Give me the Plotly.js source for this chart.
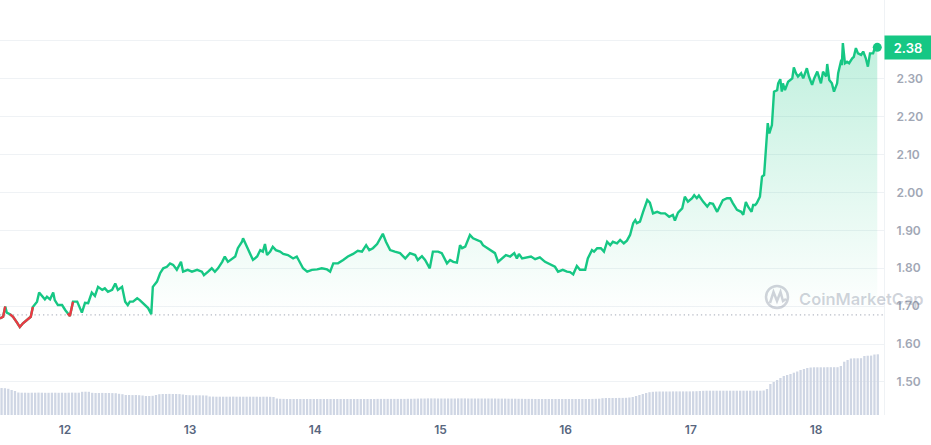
<!DOCTYPE html>
<html><head><meta charset="utf-8">
<script src="https://cdn.plot.ly/plotly-3.0.1.min.js"></script>
<style>html,body{margin:0;padding:0;background:#fff}#chart{width:931px;height:445px}</style>
</head><body><div id="chart"></div>
<script>
// day-of-month of the first sample (7-day window)
const START_DAY = 11.481;

// hours since the first sample
const priceHours = [
0,0.6,1.0,1.3,1.9,2.5,3.3,3.8,4.4,4.8,
5.4,5.9,6.3,7.1,7.5,8.1,8.6,9.0,9.6,10.2,
10.5,11.1,11.9,12.5,13.0,13.4,14.0,14.8,15.7,16.3,
16.9,17.6,18.2,18.8,19.6,20.1,20.7,21.5,22.1,22.6,
23.4,24.0,24.5,24.9,25.5,26.3,26.8,27.8,28.4,29.0,
29.3,30.1,30.7,31.3,32.0,32.6,33.2,33.9,34.7,35.1,
36.0,36.8,37.8,38.7,39.1,39.9,40.6,41.2,41.8,42.6,
43.1,43.7,44.5,45.1,45.6,46.4,46.6,47.2,47.7,48.5,
49.3,49.9,50.4,50.8,51.2,51.8,52.3,52.9,53.7,54.3,
55.2,56.2,56.9,57.5,58.1,58.9,59.8,60.8,61.7,62.7,
63.3,63.9,64.8,65.8,66.7,67.7,68.6,69.4,70.2,70.8,
71.5,72.3,72.7,73.4,74.0,74.8,75.7,76.7,77.7,78.6,
79.6,80.1,80.9,81.5,82.4,83.0,84.0,84.7,85.7,86.3,
86.9,87.6,88.2,88.6,89.2,90.1,90.7,91.5,92.2,92.6,
93.4,94.3,94.9,95.5,96.3,97.0,97.8,98.6,99.1,99.5,
100.1,101.0,101.8,102.6,103.5,104.5,105.5,106.4,107.0,107.9,
108.7,109.3,109.9,110.6,111.2,112.2,112.7,113.5,113.9,114.5,
115.2,115.8,116.4,117.0,117.5,118.3,118.9,119.6,120.2,120.8,
121.4,121.8,122.1,122.7,123.3,124.1,124.6,125.2,126.0,126.7,
127.5,128.3,129.0,129.4,130.0,130.8,131.3,131.9,132.7,133.1,
133.6,134.0,134.8,135.6,136.1,136.7,137.5,138.1,138.6,139.4,
140.0,140.5,141.3,142.1,142.5,143.0,143.4,144.1,144.4,144.8,
145.1,145.7,146.1,146.5,146.9,147.2,147.5,148.0,148.4,149.0,
149.2,149.6,149.9,150.1,150.5,151.1,151.9,152.2,152.6,153.0,
153.6,154.0,154.7,155.1,155.7,156.1,156.7,157.0,157.4,157.8,
158.4,158.6,159.0,159.5,159.9,160.5,160.7,161.3,161.4,161.6,
162.0,162.4,162.8,163.4,163.7,164.1,164.5,165.1,165.5,166.0,
166.4,166.8,167.4,167.6,168.2
];

const priceValues = [
1.668,1.672,1.699,1.683,1.679,1.672,1.656,1.645,1.655,1.659,
1.666,1.672,1.698,1.712,1.736,1.725,1.718,1.725,1.718,1.736,
1.716,1.703,1.703,1.690,1.681,1.674,1.712,1.712,1.683,1.709,
1.708,1.736,1.727,1.751,1.743,1.747,1.738,1.743,1.760,1.743,
1.751,1.712,1.703,1.712,1.712,1.721,1.716,1.703,1.695,1.679,
1.751,1.765,1.787,1.800,1.804,1.813,1.809,1.796,1.817,1.791,
1.796,1.791,1.796,1.791,1.782,1.791,1.800,1.791,1.800,1.817,
1.831,1.817,1.826,1.831,1.853,1.870,1.879,1.861,1.844,1.822,
1.831,1.848,1.844,1.864,1.835,1.844,1.857,1.848,1.844,1.838,
1.835,1.826,1.831,1.817,1.800,1.791,1.796,1.797,1.800,1.797,
1.791,1.813,1.813,1.822,1.831,1.838,1.846,1.844,1.861,1.848,
1.853,1.864,1.875,1.891,1.870,1.848,1.844,1.840,1.826,1.840,
1.835,1.822,1.832,1.822,1.800,1.844,1.844,1.840,1.813,1.822,
1.817,1.815,1.861,1.853,1.857,1.888,1.879,1.873,1.870,1.861,
1.853,1.844,1.840,1.817,1.826,1.835,1.831,1.840,1.826,1.838,
1.826,1.829,1.831,1.824,1.829,1.817,1.809,1.804,1.791,1.796,
1.791,1.790,1.784,1.806,1.796,1.796,1.826,1.848,1.844,1.853,
1.853,1.844,1.870,1.861,1.870,1.866,1.875,1.866,1.873,1.888,
1.919,1.927,1.919,1.923,1.949,1.980,1.973,1.945,1.949,1.945,
1.945,1.936,1.941,1.926,1.947,1.958,1.989,1.976,1.985,1.993,
1.985,1.992,1.976,1.963,1.972,1.970,1.949,1.967,1.980,1.985,
1.985,1.972,1.954,1.949,1.941,1.975,1.963,1.949,1.967,1.967,
1.972,1.989,2.042,2.046,2.139,2.183,2.156,2.178,2.266,2.270,
2.288,2.299,2.266,2.288,2.270,2.292,2.301,2.330,2.315,2.306,
2.315,2.301,2.328,2.306,2.284,2.301,2.319,2.306,2.288,2.319,
2.306,2.339,2.297,2.288,2.266,2.288,2.315,2.350,2.336,2.394,
2.341,2.345,2.341,2.354,2.358,2.381,2.367,2.363,2.372,2.354,
2.332,2.367,2.367,2.376,2.383
];

// opening price of the window (dotted reference line)
const baselinePrice = 1.677;

// 24h volume, arbitrary units (one bar every volumeStepHours)
const volumeStepHours = 168 / 261;
const volumeFirstHour = 0.3;
const volumeValues = [
270,268,262,
250,240,
225,223,223,222,223,223,224,223,222,222,223,223,222,223,222,223,224,223,223,
232,233,232,
222,220,220,221,220,220,219,218,
212,208,
200,200,199,200,198,195,
190,190,192,200,
208,210,210,211,210,210,209,205,200,
198,197,197,197,196,195,
185,184,183,183,183,183,183,184,183,183,183,183,183,183,183,182,183,183,182,180,
165,162,161,160,160,160,160,160,160,160,160,160,160,160,160,160,160,160,160,160,160,160,160,160,160,160,160,160,160,160,161,161,161,161,161,161,161,161,161,162,162,163,164,
165,165,166,166,166,165,165,165,165,165,165,166,166,166,165,165,165,165,165,165,165,165,165,164,164,164,163,163,163,162,162,
161,161,161,160,160,160,160,160,160,160,160,160,160,160,160,160,160,160,160,160,161,162,163,
168,170,170,170,170,171,171,172,175,
180,190,200,210,220,228,
232,234,235,235,235,235,236,236,236,236,236,236,237,238,240,
242,243,243,243,243,243,243,243,243,243,243,243,243,243,243,243,243,243,245,
260,
310,330,350,370,390,400,410,423,435,450,460,470,
475,477,477,477,477,478,478,478,478,
490,
533,
550,
565,567,567,568,
590,593,594,
605,607
];

const dayTicks = [12,13,14,15,16,17,18];
const dayTickLabels = ['12','13','14','15','16','17','18'];
const priceTicks = [1.5,1.6,1.7,1.8,1.9,2.0,2.1,2.2,2.3,2.4];
const priceTickLabels = ['1.50','1.60','1.70','1.80','1.90','2.00','2.10','2.20','2.30','2.40'];

const GREEN = '#16c784', RED = '#ea3943';
const toDay = h => START_DAY + h / 24;
const px = priceHours.map(toDay);
const n = priceValues.length;
const lastX = px[n - 1], lastY = priceValues[n - 1];
const maxY = Math.max(...priceValues);

const redY = priceValues.map((v, i) =>
  (v < baselinePrice || (i > 0 && priceValues[i-1] < baselinePrice) || (i < n-1 && priceValues[i+1] < baselinePrice)) ? v : null);

const volX = volumeValues.map((_, i) => toDay(volumeFirstHour + i * volumeStepHours));
const barW = volumeStepHours / 24 * 0.68;

const X0 = 11.481, X1 = 18.543;

const traces = [
  { x: [X0, X1], y: [baselinePrice, baselinePrice], mode: 'lines', type: 'scatter',
    line: { color: '#a3a9b6', width: 1, dash: '1.3px,3px' }, hoverinfo: 'skip' },
  { x: [px[0], lastX], y: [baselinePrice, baselinePrice], mode: 'lines', type: 'scatter',
    line: { width: 0, color: 'rgba(0,0,0,0)' }, hoverinfo: 'skip' },
  { x: px, y: priceValues, mode: 'lines', type: 'scatter', fill: 'tonexty',
    fillgradient: { type: 'vertical', start: baselinePrice, stop: maxY,
      colorscale: [[0, 'rgba(22,199,132,0.0)'], [0.45, 'rgba(22,199,132,0.12)'], [1, 'rgba(22,199,132,0.27)']] },
    line: { color: GREEN, width: 2.4, shape: 'linear' } },
  { x: px, y: redY, mode: 'lines', type: 'scatter', connectgaps: false,
    line: { color: RED, width: 2.4 } },
  { x: [lastX], y: [lastY], mode: 'markers', type: 'scatter',
    marker: { color: GREEN, size: 9 }, cliponaxis: false },
  { x: volX, y: volumeValues, type: 'bar', yaxis: 'y2', width: barW,
    marker: { color: '#cfd6e4', line: { width: 0 } } }
];

const W = 884, H = 415; // plot area in px (for watermark placement)
const pxX = v => v / W, pxY = v => 1 - v / H;
const wm = 'rgba(88,102,126,0.28)';

const layout = {
  width: 931, height: 445,
  margin: { l: 0, r: 47, t: 0, b: 30, pad: 0 },
  paper_bgcolor: '#ffffff', plot_bgcolor: '#ffffff',
  showlegend: false, hovermode: false,
  font: { family: 'Inter, "Noto Sans", sans-serif' },
  xaxis: { range: [X0, X1], tickvals: dayTicks, ticktext: dayTickLabels,
    showgrid: false, zeroline: false, showline: false, ticks: '',
    tickfont: { size: 12, color: '#58667e', weight: 600 }, ticklabelstandoff: 6 },
  yaxis: { side: 'right', range: [1.4129, 2.5079], tickvals: priceTicks, ticktext: priceTickLabels,
    showgrid: true, gridcolor: '#eff2f5', gridwidth: 1, zeroline: false,
    showline: true, linecolor: '#eff2f5', linewidth: 1, ticks: '',
    tickfont: { size: 12, color: '#a1a7b5', weight: 600 }, ticklabelstandoff: 9 },
  yaxis2: { overlaying: 'y', range: [0, 4150], visible: false },
  annotations: [
    { xref: 'paper', x: 1, xanchor: 'left', yref: 'y', y: lastY, yanchor: 'middle',
      text: lastY.toFixed(2), showarrow: false, bgcolor: GREEN, borderpad: 1,
      width: 44, height: 21, align: 'center',
      font: { color: '#ffffff', size: 13, weight: 600, family: 'Inter, sans-serif' } },
    { xref: 'paper', yref: 'paper', x: pxX(797), y: pxY(299), xanchor: 'left', yanchor: 'middle',
      text: 'CoinMarketCap', showarrow: false,
      font: { color: wm, size: 16.5, weight: 600, family: 'Inter, sans-serif' } }
  ],
  shapes: [
    { type: 'circle', xref: 'paper', yref: 'paper', layer: 'above',
      x0: pxX(766), x1: pxX(788), y0: pxY(308), y1: pxY(286),
      line: { color: wm, width: 2.5 } },
    { type: 'path', xref: 'paper', yref: 'paper', layer: 'above',
      path: `M ${pxX(770)} ${pxY(303)} L ${pxX(773.5)} ${pxY(292)} L ${pxX(777)} ${pxY(301)} L ${pxX(780.5)} ${pxY(292)} L ${pxX(783)} ${pxY(301)} L ${pxX(786)} ${pxY(299)}`,
      line: { color: wm, width: 2.5 } }
  ]
};

Plotly.newPlot('chart', traces, layout, { staticPlot: true, displayModeBar: false });
</script>
</body></html>
